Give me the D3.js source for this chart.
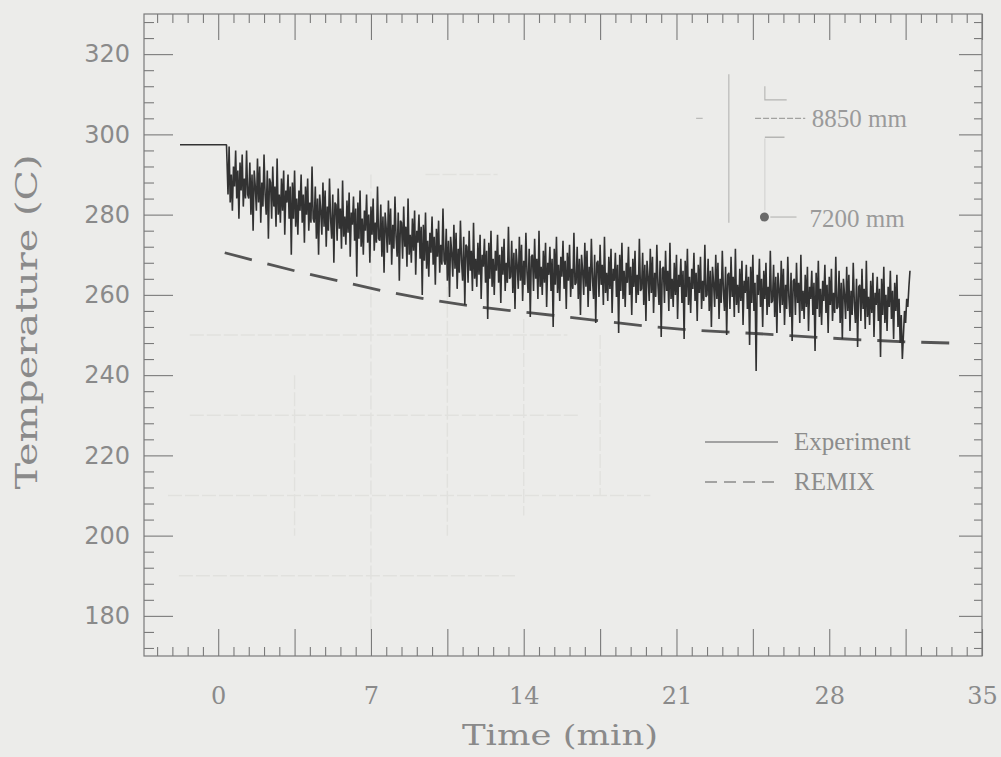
<!DOCTYPE html>
<html>
<head>
<meta charset="utf-8">
<script src="https://cdn.jsdelivr.net/npm/d3@7"></script>
<style>
  html, body { margin: 0; padding: 0; background: #ececea; }
  svg { display: block; }
</style>
</head>
<body>
<svg id="chart" width="1001" height="757"></svg>
<script>
// ---- data -------------------------------------------------------------
// Steady-state temperature before the transient (time in min, °C)
const expSteadyTime = [-1.75, 0.38];
const expSteadyTemp = [297.4, 297.4];

// Measured thermocouple trace after transient start, sampled every expStep minutes
const expStart = 0.4;
const expStep = 0.05;
const expValues = [
  294, 285, 297, 283, 290, 281, 292, 287, 296, 284, 291, 279, 293, 286, 295, 282, 289, 284, 296, 285,
  284, 293, 280, 290, 276, 291, 287, 281, 294, 283, 292, 278, 288, 282, 295, 285, 280, 291, 274, 289,
  288, 279, 292, 282, 287, 277, 294, 280, 285, 278, 289, 281, 291, 275, 286, 283, 290, 279, 287, 270,
  288, 279, 291, 277, 284, 275, 286, 281, 290, 278, 285, 273, 287, 280, 289, 276, 283, 278, 292, 279,
  278, 287, 274, 284, 270, 285, 281, 275, 288, 277, 286, 272, 282, 276, 289, 279, 274, 285, 268, 283,
  282.5, 273.5, 286.5, 276.5, 281.5, 271.5, 288.5, 274.5, 279.5, 272.5, 283.5, 275.5, 285.5, 269.5, 280.5, 277.5, 284.5, 273.5, 281.5, 264.5,
  283, 274, 286, 272, 279, 270, 281, 276, 285, 273, 280, 268, 282, 275, 284, 271, 278, 273, 287, 274,
  273.5, 282.5, 269.5, 279.5, 265.5, 280.5, 276.5, 270.5, 283.5, 272.5, 281.5, 267.5, 277.5, 271.5, 284.5, 274.5, 269.5, 280.5, 263.5, 278.5,
  278, 269, 282, 272, 277, 267, 284, 270, 275, 268, 279, 271, 281, 265, 276, 273, 280, 269, 277, 260,
  277.5, 268.5, 280.5, 266.5, 273.5, 264.5, 275.5, 270.5, 279.5, 267.5, 274.5, 262.5, 276.5, 269.5, 278.5, 265.5, 272.5, 267.5, 281.5, 268.5,
  267.5, 276.5, 263.5, 273.5, 259.5, 274.5, 270.5, 264.5, 277.5, 266.5, 275.5, 261.5, 271.5, 265.5, 278.5, 268.5, 263.5, 274.5, 257.5, 272.5,
  272, 263, 276, 266, 271, 261, 278, 264, 269, 262, 273, 265, 275, 259, 270, 267, 274, 263, 271, 254,
  273, 264, 276, 262, 269, 260, 271, 266, 275, 263, 270, 258, 272, 265, 274, 261, 268, 263, 277, 264,
  264.5, 273.5, 260.5, 270.5, 256.5, 271.5, 267.5, 261.5, 274.5, 263.5, 272.5, 258.5, 268.5, 262.5, 275.5, 265.5, 260.5, 271.5, 254.5, 269.5,
  270, 261, 274, 264, 269, 259, 276, 262, 267, 260, 271, 263, 273, 257, 268, 265, 272, 261, 269, 252,
  271.5, 262.5, 274.5, 260.5, 267.5, 258.5, 269.5, 264.5, 273.5, 261.5, 268.5, 256.5, 270.5, 263.5, 272.5, 259.5, 266.5, 261.5, 275.5, 262.5,
  263, 272, 259, 269, 255, 270, 266, 260, 273, 262, 271, 257, 267, 261, 274, 264, 259, 270, 253, 268,
  268.5, 259.5, 272.5, 262.5, 267.5, 257.5, 274.5, 260.5, 265.5, 258.5, 269.5, 261.5, 271.5, 255.5, 266.5, 263.5, 270.5, 259.5, 267.5, 250.5,
  270, 261, 273, 259, 266, 257, 268, 263, 272, 260, 267, 255, 269, 262, 271, 258, 265, 260, 274, 261,
  261.5, 270.5, 257.5, 267.5, 253.5, 268.5, 264.5, 258.5, 271.5, 260.5, 269.5, 255.5, 265.5, 259.5, 272.5, 262.5, 257.5, 268.5, 249.5, 266.5,
  267, 258, 271, 261, 266, 256, 273, 259, 264, 257, 268, 260, 270, 254, 265, 262, 269, 258, 266, 249,
  268.5, 259.5, 271.5, 257.5, 264.5, 255.5, 266.5, 261.5, 270.5, 258.5, 265.5, 253.5, 267.5, 260.5, 269.5, 256.5, 263.5, 258.5, 272.5, 259.5,
  260, 269, 256, 266, 252, 267, 263, 257, 270, 259, 268, 254, 264, 258, 271, 261, 256, 267, 250, 265,
  265.5, 256.5, 269.5, 259.5, 264.5, 254.5, 271.5, 257.5, 262.5, 255.5, 266.5, 258.5, 268.5, 252.5, 263.5, 260.5, 267.5, 256.5, 264.5, 247.5,
  267, 258, 270, 256, 263, 241, 265, 260, 269, 257, 264, 252, 266, 259, 268, 255, 262, 257, 271, 258,
  258.5, 267.5, 254.5, 264.5, 250.5, 265.5, 261.5, 255.5, 268.5, 257.5, 266.5, 252.5, 262.5, 256.5, 269.5, 259.5, 254.5, 265.5, 248.5, 263.5,
  264, 255, 268, 258, 263, 253, 270, 256, 261, 254, 265, 257, 267, 251, 262, 259, 266, 255, 263, 246,
  265.5, 256.5, 268.5, 254.5, 261.5, 252.5, 263.5, 258.5, 267.5, 255.5, 262.5, 250.5, 264.5, 257.5, 266.5, 253.5, 260.5, 255.5, 269.5, 256.5,
  257, 266, 253, 263, 249, 264, 260, 254, 267, 256, 265, 251, 261, 255, 268, 258, 253, 264, 247, 262,
  262.5, 253.5, 266.5, 256.5, 261.5, 251.5, 268.5, 254.5, 259.5, 252.5, 263.5, 255.5, 265.5, 249.5, 260.5, 257.5, 264.5, 253.5, 261.5, 244.5,
  264, 255, 267, 253, 260, 251, 262, 257, 266, 254, 261, 249, 263, 256, 265, 252, 259, 248, 255, 244,
  250, 256, 253, 259, 257, 262, 266
];

// REMIX calculation (time in min, °C)
const remixTime = [0.3, 1.5, 3.5, 5.5, 7.5, 9.5, 11.5, 13.5, 15.5, 17.5, 19.5, 21.5, 23.5, 25.5, 27.5, 29.5, 31.5, 33.5];
const remixTemp = [270.5, 268.8, 266, 263.5, 261, 259, 257.3, 256, 254.8, 253.5, 252.3, 251.3, 250.7, 250.1, 249.4, 248.8, 248.3, 248];

// Axis ticks
const xLabelTicks = [0, 7, 14, 21, 28, 35];
const xMajorTicks = [0, 3.5, 7, 10.5, 14, 17.5, 21, 24.5, 28, 31.5, 35];
const xMinorTicks = [-2.8, -2.1, -1.4, -0.7, 0.7, 1.4, 2.1, 2.8, 4.2, 4.9, 5.6, 6.3, 7.7, 8.4, 9.1, 9.8,
  11.2, 11.9, 12.6, 13.3, 14.7, 15.4, 16.1, 16.8, 18.2, 18.9, 19.6, 20.3, 21.7, 22.4, 23.1, 23.8,
  25.2, 25.9, 26.6, 27.3, 28.7, 29.4, 30.1, 30.8, 32.2, 32.9, 33.6, 34.3];
const yMajorTicks = [180, 200, 220, 240, 260, 280, 300, 320];
const yMinorTicks = [172, 176, 184, 188, 192, 196, 204, 208, 212, 216, 224, 228, 232, 236, 244, 248, 252, 256,
  264, 268, 272, 276, 284, 288, 292, 296, 304, 308, 312, 316, 324, 328];

// Legend entries
const legendLabels = ["Experiment", "REMIX"];
// Probe elevations shown in the inset sketch
const probeLabels = ["8850 mm", "7200 mm"];

// ---- layout -----------------------------------------------------------
const svg = d3.select("#chart");
const plotL = 144, plotR = 982, plotT = 14, plotB = 656;

const x = d3.scaleLinear().domain([-3.4, 35]).range([plotL, plotR]);
const y = d3.scaleLinear().domain([170, 330]).range([plotB, plotT]);

const ink = "#7a7a7a";
const textInk = "#8a8a8a";

// faint grid ghosting behind the plot
const faint = svg.append("g").attr("stroke", "#e1e1de").attr("stroke-width", 1.4).attr("fill", "none");
const faintRows = [[250, -1.3, 16], [230, -1.3, 16.5], [210, -2.3, 19.8], [190, -1.8, 13.6], [290, 9.5, 12.8]];
const faintCols = [[3.5, 240, 200], [7, 290, 176], [10.5, 262, 200], [14, 254, 205], [17.5, 250, 210]];
faint.selectAll("line.r").data(faintRows).join("line")
  .attr("x1", d => x(d[1])).attr("x2", d => x(d[2]))
  .attr("y1", d => y(d[0])).attr("y2", d => y(d[0]))
  .attr("stroke-dasharray", "14,3");
faint.selectAll("line.c").data(faintCols).join("line")
  .attr("x1", d => x(d[0])).attr("x2", d => x(d[0]))
  .attr("y1", d => y(d[1])).attr("y2", d => y(d[2]))
  .attr("stroke-dasharray", "14,3");

// frame
svg.append("rect")
  .attr("x", plotL).attr("y", plotT)
  .attr("width", plotR - plotL).attr("height", plotB - plotT)
  .attr("fill", "none").attr("stroke", ink).attr("stroke-width", 1.2);

function styleAxis(g) {
  g.select(".domain").remove();
  g.selectAll(".tick line").attr("stroke", ink).attr("stroke-width", 1.1);
}

// bottom axis (ticks point inward)
svg.append("g").attr("transform", `translate(0,${plotB})`)
  .call(d3.axisBottom(x).tickValues(xMinorTicks).tickSizeInner(-9).tickSizeOuter(0).tickFormat(""))
  .call(styleAxis);
svg.append("g").attr("transform", `translate(0,${plotB})`)
  .call(d3.axisBottom(x).tickValues(xMajorTicks).tickSizeInner(-27).tickSizeOuter(0).tickPadding(31)
    .tickFormat(d => xLabelTicks.includes(d) ? d : ""))
  .call(styleAxis)
  .call(g => g.selectAll("text")
    .attr("fill", textInk)
    .attr("font-family", "'DejaVu Serif', serif")
    .attr("font-size", 24));

// top axis
svg.append("g").attr("transform", `translate(0,${plotT})`)
  .call(d3.axisTop(x).tickValues(xMinorTicks).tickSizeInner(-9).tickSizeOuter(0).tickFormat(""))
  .call(styleAxis);
svg.append("g").attr("transform", `translate(0,${plotT})`)
  .call(d3.axisTop(x).tickValues(xMajorTicks).tickSizeInner(-26).tickSizeOuter(0).tickFormat(""))
  .call(styleAxis);

// left axis
svg.append("g").attr("transform", `translate(${plotL},0)`)
  .call(d3.axisLeft(y).tickValues(yMinorTicks).tickSizeInner(-10).tickSizeOuter(0).tickFormat(""))
  .call(styleAxis);
svg.append("g").attr("transform", `translate(${plotL},0)`)
  .call(d3.axisLeft(y).tickValues(yMajorTicks).tickSizeInner(-29).tickSizeOuter(0).tickPadding(14))
  .call(styleAxis)
  .call(g => g.selectAll("text")
    .attr("fill", textInk)
    .attr("font-family", "'DejaVu Sans', sans-serif")
    .attr("font-size", 24));

// right axis
svg.append("g").attr("transform", `translate(${plotR},0)`)
  .call(d3.axisRight(y).tickValues(yMinorTicks).tickSizeInner(-8).tickSizeOuter(0).tickFormat(""))
  .call(styleAxis);
svg.append("g").attr("transform", `translate(${plotR},0)`)
  .call(d3.axisRight(y).tickValues(yMajorTicks).tickSizeInner(-23).tickSizeOuter(0).tickFormat(""))
  .call(styleAxis);

// axis titles
svg.append("text")
  .attr("x", 560).attr("y", 745)
  .attr("text-anchor", "middle")
  .attr("font-family", "'DejaVu Serif', serif").attr("font-size", 28)
  .attr("fill", textInk)
  .attr("textLength", 196).attr("lengthAdjust", "spacingAndGlyphs")
  .text("Time (min)");
svg.append("text")
  .attr("transform", "translate(37,322) rotate(-90)")
  .attr("text-anchor", "middle")
  .attr("font-family", "'DejaVu Serif', serif").attr("font-size", 30)
  .attr("fill", textInk)
  .attr("textLength", 335).attr("lengthAdjust", "spacingAndGlyphs")
  .text("Temperature (C)");

// ---- series -----------------------------------------------------------
const expPoints = expSteadyTime.map((t, i) => [t, expSteadyTemp[i]])
  .concat(expValues.map((v, i) => [expStart + i * expStep, v]));
const remixPoints = remixTime.map((t, i) => [t, remixTemp[i]]);

const line = d3.line().x(d => x(d[0])).y(d => y(d[1]));

svg.append("path")
  .datum(remixPoints)
  .attr("d", line)
  .attr("fill", "none")
  .attr("stroke", "#555555")
  .attr("stroke-width", 2.8)
  .attr("stroke-dasharray", "28,16");

svg.append("path")
  .datum(expPoints)
  .attr("d", line)
  .attr("fill", "none")
  .attr("stroke", "#323232")
  .attr("stroke-width", 1.6)
  .attr("stroke-linejoin", "bevel");

// ---- legend -----------------------------------------------------------
const legend = svg.append("g");
const legendRows = [
  { label: legendLabels[0], dash: null, y: 442 },
  { label: legendLabels[1], dash: "12,7", y: 482 }
];
legend.selectAll("line").data(legendRows).join("line")
  .attr("x1", 705).attr("x2", 778)
  .attr("y1", d => d.y).attr("y2", d => d.y)
  .attr("stroke", "#8a8a8a").attr("stroke-width", 1.6)
  .attr("stroke-dasharray", d => d.dash);
legend.selectAll("text").data(legendRows).join("text")
  .attr("x", 794).attr("y", d => d.y + 8)
  .attr("font-family", "'Liberation Serif', serif").attr("font-size", 25)
  .attr("fill", "#8c8c8c")
  .text(d => d.label);

// ---- probe location sketch ---------------------------------------------
const sketch = svg.append("g").attr("fill", "none").attr("stroke", "#b4b4b2").attr("stroke-width", 1.1);
sketch.append("line")   // vessel wall
  .attr("x1", x(23.4)).attr("x2", x(23.4)).attr("y1", y(315)).attr("y2", y(278));
sketch.append("polyline")
  .attr("points", [[x(25.05), y(312)], [x(25.05), y(308.6)], [x(26.05), y(308.6)]].join(" "));
sketch.append("line")
  .attr("x1", x(24.6)).attr("x2", x(26.9)).attr("y1", y(304)).attr("y2", y(304))
  .attr("stroke", "#a2a2a0").attr("stroke-dasharray", "6,2");
sketch.append("line")
  .attr("x1", x(21.9)).attr("x2", x(22.2)).attr("y1", y(304)).attr("y2", y(304));
sketch.append("line")
  .attr("x1", x(25.05)).attr("x2", x(25.95)).attr("y1", y(299.3)).attr("y2", y(299.3))
  .attr("stroke", "#a2a2a0");
sketch.append("line")
  .attr("x1", x(25.05)).attr("x2", x(25.05)).attr("y1", y(299)).attr("y2", y(281))
  .attr("stroke", "#d2d2d0");
sketch.append("line")
  .attr("x1", x(25.3)).attr("x2", x(26.5)).attr("y1", y(279.4)).attr("y2", y(279.4));
svg.append("circle")
  .attr("cx", x(25.03)).attr("cy", y(279.4)).attr("r", 4.5)
  .attr("fill", "#6a6a6a");

svg.selectAll("text.probe").data([
  { label: probeLabels[0], t: 27.2, T: 301.8 },
  { label: probeLabels[1], t: 27.1, T: 277 }
]).join("text")
  .attr("class", "probe")
  .attr("x", d => x(d.t)).attr("y", d => y(d.T))
  .attr("font-family", "'Liberation Serif', serif").attr("font-size", 25)
  .attr("fill", "#9a9a9a")
  .text(d => d.label);
</script>
</body>
</html>
